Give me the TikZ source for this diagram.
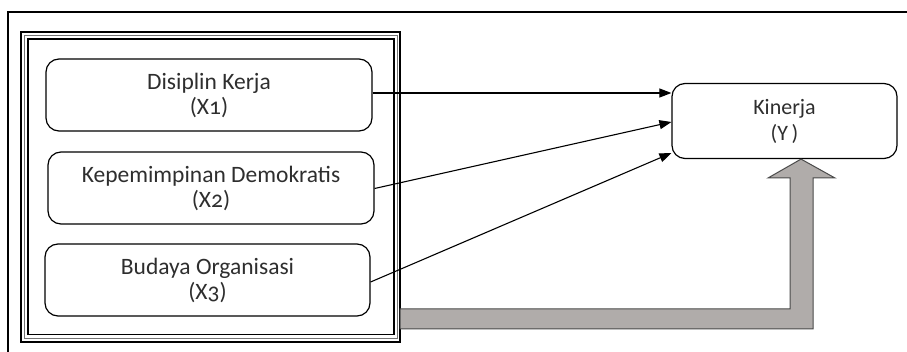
\documentclass[tikz,border=0pt]{standalone}
\usepackage{fontspec}
\setmainfont{Carlito}[Numbers=OldStyle]
\usetikzlibrary{arrows.meta}
\definecolor{txt}{HTML}{2E2E2E}
\definecolor{bigfill}{HTML}{B0ACAA}
\definecolor{bigline}{HTML}{4A4A4A}
\tikzset{
  varbox/.style={draw, line width=1.2pt, rounded corners=13pt, align=center,
    text=txt, font=\fontsize{23.5}{25}\selectfont, inner sep=0pt},
  link/.style={line width=1.1pt, -{Triangle[length=12pt,width=9pt]}},
  bigarrow/.style={fill=bigfill, draw=bigline, line width=1pt},
}
\begin{document}
\begin{tikzpicture}[x=1pt, y=-1pt]
\useasboundingbox (0,0) rectangle (907,352);

% page frame (top and left edges)
\draw[line width=2.6pt] (8,352) -- (8,12) -- (907,12);

% triple-line group frame
\draw[line width=2.2pt] (21,32) rectangle (400,342);
\draw[line width=0.8pt, black!55] (24.5,35.5) rectangle (397,338.5);
\draw[line width=1.6pt] (28,39) rectangle (394,334.5);

% independent variables
\node[varbox, minimum width=326pt, minimum height=72pt] (b1) at (209,95)
  {Disiplin Kerja\\(X1)};
\node[varbox, minimum width=326pt, minimum height=72pt] (b2) at (211,188)
  {Kepemimpinan Demokratis\\(X2)};
\node[varbox, minimum width=325pt, minimum height=72pt] (b3) at (207.5,280)
  {Budaya Organisasi\\(X3)};

% dependent variable
\node[varbox, minimum width=225pt, minimum height=75pt,
  font=\fontsize{22}{26}\selectfont] (k) at (784.5,121)
  {Kinerja\\(Y\,)};

% partial effects
\draw[link] (b1.east |- 0,93) -- (k.west |- 0,93);
\draw[link] ([yshift=-0.5pt]b2.east) -- (k.west |- 0,122);
\draw[link] ([yshift=-2pt]b3.east) -- (k.west |- 0,153);

% joint effect
\coordinate (jt) at (k.south -| 801,0);
\draw[bigarrow] (400,309) -- (790,309) -- (790,178) -- (768,178) -- (jt)
  -- (835,178) -- (813,178) -- (813,329) -- (400,329) -- cycle;
\end{tikzpicture}
\end{document}
